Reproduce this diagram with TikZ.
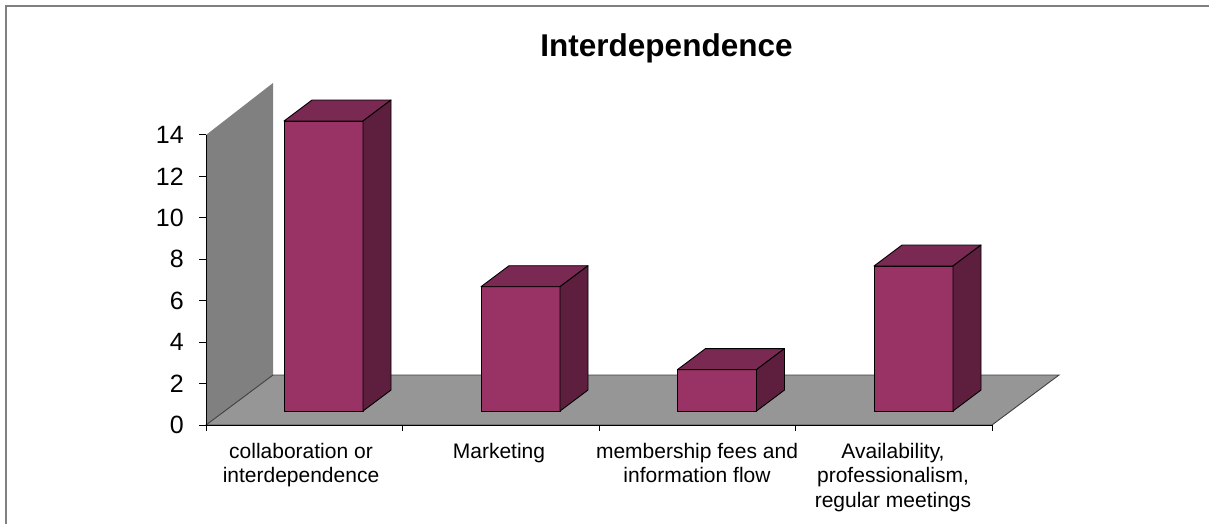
\documentclass[tikz,border=0pt]{standalone}
\usepackage{fontspec}
\setmainfont{Liberation Sans}
\definecolor{barfront}{RGB}{153,51,102}
\definecolor{bartop}{RGB}{122,41,82}
\definecolor{barside}{RGB}{94,31,63}
\definecolor{wallgray}{RGB}{128,128,128}
\definecolor{floorgray}{RGB}{150,150,150}

\begin{document}
\begin{tikzpicture}[x=1pt,y=-1pt]
    \tikzset{face/.style={draw=black,line width=0.9pt,line join=round},
        axisline/.style={draw=black,line width=1pt},
        ticklabel/.style={anchor=east,inner sep=0pt,font=\fontsize{25}{25}\selectfont},
        catlabel/.style={anchor=north,align=center,inner sep=0pt,font=\fontsize{21}{24.5}\selectfont}}
    \useasboundingbox (0,0) rectangle (1209,524);
    \draw[line width=1.6pt,draw=gray] (6,524) -- (6,6) -- (1209,6);
    % wall and floor
    \fill[wallgray] (206,425) -- (206,135) -- (273,83) -- (273,375) -- cycle;
    \filldraw[fill=floorgray,draw=black!75,line width=0.9pt] (206,425) -- (273,375) -- (1059,375) -- (992,425) -- cycle;
    \draw[axisline] (206,135) -- (206,425) -- (992,425);
    \foreach \x in {206,402.5,599,795.5,992}
        \draw[axisline] (\x,425) -- (\x,431);
    \foreach \k [evaluate=\k as \y using 425-\k*41.43,
                 evaluate=\k as \n using int(2*\k)] in {0,...,7} {
        \draw[axisline] (199,\y) -- (206,\y);
        \node[ticklabel] (y\k) at (184,\y) {\n};
    }
    % bars
    \foreach \c/\v in {323.5/14,520.5/6,717/2,913.5/7} {
        \pgfmathsetmacro\t{411-\v*20.714}
        \filldraw[face,fill=barfront] (\c-39.5,411) rectangle (\c+39.5,\t);
        \filldraw[face,fill=bartop] (\c-39.5,\t) -- (\c-11.5,\t-21) -- (\c+67.5,\t-21) -- (\c+39.5,\t) -- cycle;
        \filldraw[face,fill=barside] (\c+39.5,411) -- (\c+39.5,\t) -- (\c+67.5,\t-21) -- (\c+67.5,390) -- cycle;
    }
    \node[anchor=base,font=\bfseries\fontsize{31.5}{32}\selectfont] (title) at (666.5,57) {Interdependence};
    \node[catlabel] (cat1) at (301,443) {collaboration or\\interdependence};
    \node[catlabel] (cat2) at (499,443) {Marketing};
    \node[catlabel] (cat3) at (697,443) {membership fees and\\information flow};
    \node[catlabel] (cat4) at (893,443) {Availability,\\professionalism,\\regular meetings};
\end{tikzpicture}
\end{document}
